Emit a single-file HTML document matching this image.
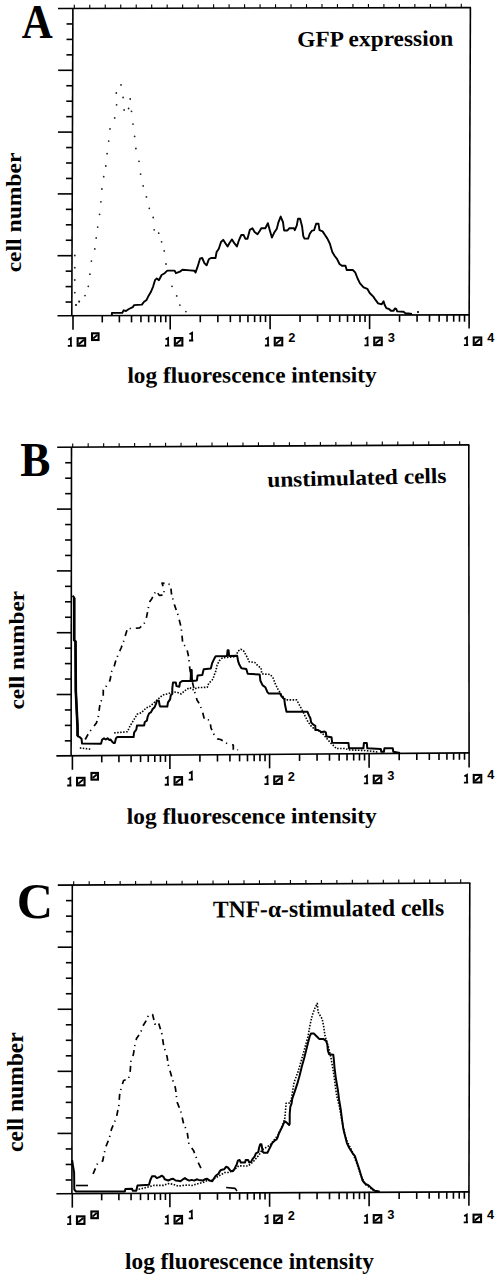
<!DOCTYPE html>
<html><head><meta charset="utf-8"><style>
html,body{margin:0;padding:0;background:#fff;}
body{width:497px;height:1280px;overflow:hidden;position:relative;}
svg{display:block;position:absolute;left:0;top:0;}
</style></head><body>
<svg width="497" height="1280" viewBox="0 0 497 1280">
<rect width="497" height="1280" fill="#fff"/>
<g stroke="#000" stroke-width="1.6" fill="none" stroke-linecap="butt"><line x1="58.00" y1="8.50" x2="471.00" y2="7.60"/><line x1="57.50" y1="315.70" x2="469.70" y2="314.90"/><line x1="72.90" y1="8.50" x2="71.80" y2="315.90"/><line x1="470.40" y1="7.60" x2="469.10" y2="328.60"/><line x1="66.54" y1="23.95" x2="72.84" y2="23.95"/><line x1="66.49" y1="39.40" x2="72.79" y2="39.40"/><line x1="66.43" y1="54.85" x2="72.73" y2="54.85"/><line x1="58.18" y1="70.30" x2="72.68" y2="70.30"/><line x1="66.32" y1="85.75" x2="72.62" y2="85.75"/><line x1="66.27" y1="101.20" x2="72.57" y2="101.20"/><line x1="66.21" y1="116.65" x2="72.51" y2="116.65"/><line x1="57.96" y1="132.10" x2="72.46" y2="132.10"/><line x1="66.10" y1="147.55" x2="72.40" y2="147.55"/><line x1="66.05" y1="163.00" x2="72.35" y2="163.00"/><line x1="65.99" y1="178.45" x2="72.29" y2="178.45"/><line x1="57.74" y1="193.90" x2="72.24" y2="193.90"/><line x1="65.88" y1="209.35" x2="72.18" y2="209.35"/><line x1="65.83" y1="224.80" x2="72.13" y2="224.80"/><line x1="65.77" y1="240.25" x2="72.07" y2="240.25"/><line x1="57.52" y1="255.70" x2="72.02" y2="255.70"/><line x1="65.66" y1="271.15" x2="71.96" y2="271.15"/><line x1="65.60" y1="286.60" x2="71.90" y2="286.60"/><line x1="65.55" y1="302.05" x2="71.85" y2="302.05"/><line x1="102.26" y1="315.61" x2="102.26" y2="322.41"/><line x1="119.38" y1="315.58" x2="119.38" y2="322.38"/><line x1="131.52" y1="315.56" x2="131.52" y2="322.36"/><line x1="140.94" y1="315.54" x2="140.94" y2="322.34"/><line x1="148.64" y1="315.52" x2="148.64" y2="322.32"/><line x1="155.14" y1="315.51" x2="155.14" y2="322.31"/><line x1="160.78" y1="315.50" x2="160.78" y2="322.30"/><line x1="165.75" y1="315.49" x2="165.75" y2="322.29"/><line x1="73.00" y1="315.17" x2="73.00" y2="329.67"/><line x1="200.27" y1="315.42" x2="200.27" y2="322.22"/><line x1="217.86" y1="315.39" x2="217.86" y2="322.19"/><line x1="230.35" y1="315.36" x2="230.35" y2="322.16"/><line x1="240.03" y1="315.35" x2="240.03" y2="322.15"/><line x1="247.94" y1="315.33" x2="247.94" y2="322.13"/><line x1="254.63" y1="315.32" x2="254.63" y2="322.12"/><line x1="260.42" y1="315.31" x2="260.42" y2="322.11"/><line x1="265.53" y1="315.30" x2="265.53" y2="322.10"/><line x1="170.20" y1="314.98" x2="170.20" y2="329.48"/><line x1="300.05" y1="315.23" x2="300.05" y2="322.03"/><line x1="317.57" y1="315.19" x2="317.57" y2="321.99"/><line x1="330.00" y1="315.17" x2="330.00" y2="321.97"/><line x1="339.65" y1="315.15" x2="339.65" y2="321.95"/><line x1="347.53" y1="315.14" x2="347.53" y2="321.94"/><line x1="354.19" y1="315.12" x2="354.19" y2="321.92"/><line x1="359.96" y1="315.11" x2="359.96" y2="321.91"/><line x1="365.05" y1="315.10" x2="365.05" y2="321.90"/><line x1="270.10" y1="314.79" x2="270.10" y2="329.29"/><line x1="399.55" y1="315.04" x2="399.55" y2="321.84"/><line x1="417.07" y1="315.00" x2="417.07" y2="321.80"/><line x1="429.50" y1="314.98" x2="429.50" y2="321.78"/><line x1="439.15" y1="314.96" x2="439.15" y2="321.76"/><line x1="447.03" y1="314.94" x2="447.03" y2="321.74"/><line x1="453.69" y1="314.93" x2="453.69" y2="321.73"/><line x1="459.46" y1="314.92" x2="459.46" y2="321.72"/><line x1="464.55" y1="314.91" x2="464.55" y2="321.71"/><line x1="369.60" y1="314.59" x2="369.60" y2="329.09"/><line x1="74.30" y1="8.46" x2="74.30" y2="4.66" stroke-width="1.1"/><line x1="89.78" y1="8.43" x2="89.78" y2="4.63" stroke-width="1.1"/><line x1="105.26" y1="8.40" x2="105.26" y2="4.60" stroke-width="1.1"/><line x1="120.74" y1="8.36" x2="120.74" y2="4.56" stroke-width="1.1"/><line x1="136.22" y1="8.33" x2="136.22" y2="4.53" stroke-width="1.1"/><line x1="151.70" y1="8.30" x2="151.70" y2="4.50" stroke-width="1.1"/><line x1="167.18" y1="8.26" x2="167.18" y2="4.46" stroke-width="1.1"/><line x1="182.66" y1="8.23" x2="182.66" y2="4.43" stroke-width="1.1"/><line x1="198.14" y1="8.19" x2="198.14" y2="4.39" stroke-width="1.1"/><line x1="213.62" y1="8.16" x2="213.62" y2="4.36" stroke-width="1.1"/><line x1="229.10" y1="8.13" x2="229.10" y2="4.33" stroke-width="1.1"/><line x1="244.58" y1="8.09" x2="244.58" y2="4.29" stroke-width="1.1"/><line x1="260.06" y1="8.06" x2="260.06" y2="4.26" stroke-width="1.1"/><line x1="275.54" y1="8.03" x2="275.54" y2="4.23" stroke-width="1.1"/><line x1="291.02" y1="7.99" x2="291.02" y2="4.19" stroke-width="1.1"/><line x1="306.50" y1="7.96" x2="306.50" y2="4.16" stroke-width="1.1"/><line x1="321.98" y1="7.92" x2="321.98" y2="4.12" stroke-width="1.1"/><line x1="337.46" y1="7.89" x2="337.46" y2="4.09" stroke-width="1.1"/><line x1="352.94" y1="7.86" x2="352.94" y2="4.06" stroke-width="1.1"/><line x1="368.42" y1="7.82" x2="368.42" y2="4.02" stroke-width="1.1"/><line x1="383.90" y1="7.79" x2="383.90" y2="3.99" stroke-width="1.1"/><line x1="399.38" y1="7.75" x2="399.38" y2="3.95" stroke-width="1.1"/><line x1="414.86" y1="7.72" x2="414.86" y2="3.92" stroke-width="1.1"/><line x1="430.34" y1="7.69" x2="430.34" y2="3.89" stroke-width="1.1"/><line x1="445.82" y1="7.65" x2="445.82" y2="3.85" stroke-width="1.1"/><line x1="461.30" y1="7.62" x2="461.30" y2="3.82" stroke-width="1.1"/></g>
<path d="M68.30,339.67 l2.6,-1.5 v8.2 M67.80,345.87 h4.3" stroke="#000" stroke-width="1.8" fill="none"/>
<g stroke="#000" fill="none"><rect x="77.65" y="338.22" width="7.50" height="7.50" stroke-width="2.1"/><line x1="78.80" y1="344.17" x2="84.00" y2="339.77" stroke-width="1.9"/></g>
<g stroke="#000" fill="none"><rect x="92.05" y="333.32" width="6.50" height="6.70" stroke-width="2.1"/><line x1="93.20" y1="338.47" x2="97.40" y2="334.87" stroke-width="1.9"/></g>
<path d="M165.50,339.48 l2.6,-1.5 v8.2 M165.00,345.68 h4.3" stroke="#000" stroke-width="1.8" fill="none"/>
<g stroke="#000" fill="none"><rect x="174.85" y="338.03" width="7.50" height="7.50" stroke-width="2.1"/><line x1="176.00" y1="343.98" x2="181.20" y2="339.58" stroke-width="1.9"/></g>
<path d="M189.50,334.28 l2.6,-1.5 v8.2 M189.00,340.48 h4.3" stroke="#000" stroke-width="1.8" fill="none"/>
<path d="M265.40,339.29 l2.6,-1.5 v8.2 M264.90,345.49 h4.3" stroke="#000" stroke-width="1.8" fill="none"/>
<g stroke="#000" fill="none"><rect x="274.75" y="337.84" width="7.50" height="7.50" stroke-width="2.1"/><line x1="275.90" y1="343.79" x2="281.10" y2="339.39" stroke-width="1.9"/></g>
<text x="287.90" y="341.99" font-family="Liberation Mono" font-weight="bold" font-size="13.6" textLength="7.6" lengthAdjust="spacingAndGlyphs">2</text>
<path d="M364.90,339.09 l2.6,-1.5 v8.2 M364.40,345.29 h4.3" stroke="#000" stroke-width="1.8" fill="none"/>
<g stroke="#000" fill="none"><rect x="374.25" y="337.64" width="7.50" height="7.50" stroke-width="2.1"/><line x1="375.40" y1="343.59" x2="380.60" y2="339.19" stroke-width="1.9"/></g>
<text x="387.40" y="341.79" font-family="Liberation Mono" font-weight="bold" font-size="13.6" textLength="7.6" lengthAdjust="spacingAndGlyphs">3</text>
<path d="M464.40,338.90 l2.6,-1.5 v8.2 M463.90,345.10 h4.3" stroke="#000" stroke-width="1.8" fill="none"/>
<g stroke="#000" fill="none"><rect x="473.75" y="337.45" width="7.50" height="7.50" stroke-width="2.1"/><line x1="474.90" y1="343.40" x2="480.10" y2="339.00" stroke-width="1.9"/></g>
<text x="486.90" y="341.60" font-family="Liberation Mono" font-weight="bold" font-size="13.6" textLength="7.6" lengthAdjust="spacingAndGlyphs">4</text>
<g stroke="#000" stroke-width="1.6" fill="none" stroke-linecap="butt"><line x1="57.20" y1="447.30" x2="469.40" y2="444.90"/><line x1="56.40" y1="755.90" x2="469.70" y2="752.90"/><line x1="71.50" y1="447.30" x2="71.10" y2="755.60"/><line x1="468.80" y1="444.90" x2="469.10" y2="767.40"/><line x1="65.18" y1="462.75" x2="71.48" y2="462.75"/><line x1="65.16" y1="478.20" x2="71.46" y2="478.20"/><line x1="65.14" y1="493.65" x2="71.44" y2="493.65"/><line x1="56.92" y1="509.10" x2="71.42" y2="509.10"/><line x1="65.10" y1="524.55" x2="71.40" y2="524.55"/><line x1="65.08" y1="540.00" x2="71.38" y2="540.00"/><line x1="65.06" y1="555.45" x2="71.36" y2="555.45"/><line x1="56.84" y1="570.90" x2="71.34" y2="570.90"/><line x1="65.02" y1="586.35" x2="71.32" y2="586.35"/><line x1="65.00" y1="601.80" x2="71.30" y2="601.80"/><line x1="64.98" y1="617.25" x2="71.28" y2="617.25"/><line x1="56.76" y1="632.70" x2="71.26" y2="632.70"/><line x1="64.94" y1="648.15" x2="71.24" y2="648.15"/><line x1="64.92" y1="663.60" x2="71.22" y2="663.60"/><line x1="64.90" y1="679.05" x2="71.20" y2="679.05"/><line x1="56.68" y1="694.50" x2="71.18" y2="694.50"/><line x1="64.86" y1="709.95" x2="71.16" y2="709.95"/><line x1="64.84" y1="725.40" x2="71.14" y2="725.40"/><line x1="64.82" y1="740.85" x2="71.12" y2="740.85"/><line x1="101.75" y1="755.57" x2="101.75" y2="762.37"/><line x1="118.92" y1="755.45" x2="118.92" y2="762.25"/><line x1="131.10" y1="755.36" x2="131.10" y2="762.16"/><line x1="140.55" y1="755.29" x2="140.55" y2="762.09"/><line x1="148.27" y1="755.23" x2="148.27" y2="762.03"/><line x1="154.80" y1="755.18" x2="154.80" y2="761.98"/><line x1="160.45" y1="755.14" x2="160.45" y2="761.94"/><line x1="165.44" y1="755.11" x2="165.44" y2="761.91"/><line x1="72.40" y1="755.28" x2="72.40" y2="769.78"/><line x1="199.91" y1="754.86" x2="199.91" y2="761.66"/><line x1="217.47" y1="754.73" x2="217.47" y2="761.53"/><line x1="229.93" y1="754.64" x2="229.93" y2="761.44"/><line x1="239.59" y1="754.57" x2="239.59" y2="761.37"/><line x1="247.48" y1="754.51" x2="247.48" y2="761.31"/><line x1="254.16" y1="754.46" x2="254.16" y2="761.26"/><line x1="259.94" y1="754.42" x2="259.94" y2="761.22"/><line x1="265.04" y1="754.38" x2="265.04" y2="761.18"/><line x1="169.90" y1="754.57" x2="169.90" y2="769.07"/><line x1="299.55" y1="754.13" x2="299.55" y2="760.93"/><line x1="317.07" y1="754.01" x2="317.07" y2="760.81"/><line x1="329.50" y1="753.91" x2="329.50" y2="760.71"/><line x1="339.15" y1="753.84" x2="339.15" y2="760.64"/><line x1="347.03" y1="753.79" x2="347.03" y2="760.59"/><line x1="353.69" y1="753.74" x2="353.69" y2="760.54"/><line x1="359.46" y1="753.70" x2="359.46" y2="760.50"/><line x1="364.55" y1="753.66" x2="364.55" y2="760.46"/><line x1="269.60" y1="753.85" x2="269.60" y2="768.35"/><line x1="399.20" y1="753.41" x2="399.20" y2="760.21"/><line x1="416.81" y1="753.28" x2="416.81" y2="760.08"/><line x1="429.31" y1="753.19" x2="429.31" y2="759.99"/><line x1="439.00" y1="753.12" x2="439.00" y2="759.92"/><line x1="446.92" y1="753.06" x2="446.92" y2="759.86"/><line x1="453.61" y1="753.01" x2="453.61" y2="759.81"/><line x1="459.41" y1="752.97" x2="459.41" y2="759.77"/><line x1="464.52" y1="752.93" x2="464.52" y2="759.73"/><line x1="369.10" y1="753.13" x2="369.10" y2="767.63"/><line x1="72.70" y1="447.21" x2="72.70" y2="443.41" stroke-width="1.1"/><line x1="88.18" y1="447.12" x2="88.18" y2="443.32" stroke-width="1.1"/><line x1="103.66" y1="447.03" x2="103.66" y2="443.23" stroke-width="1.1"/><line x1="119.14" y1="446.94" x2="119.14" y2="443.14" stroke-width="1.1"/><line x1="134.62" y1="446.85" x2="134.62" y2="443.05" stroke-width="1.1"/><line x1="150.10" y1="446.76" x2="150.10" y2="442.96" stroke-width="1.1"/><line x1="165.58" y1="446.67" x2="165.58" y2="442.87" stroke-width="1.1"/><line x1="181.06" y1="446.58" x2="181.06" y2="442.78" stroke-width="1.1"/><line x1="196.54" y1="446.49" x2="196.54" y2="442.69" stroke-width="1.1"/><line x1="212.02" y1="446.40" x2="212.02" y2="442.60" stroke-width="1.1"/><line x1="227.50" y1="446.31" x2="227.50" y2="442.51" stroke-width="1.1"/><line x1="242.98" y1="446.22" x2="242.98" y2="442.42" stroke-width="1.1"/><line x1="258.46" y1="446.13" x2="258.46" y2="442.33" stroke-width="1.1"/><line x1="273.94" y1="446.04" x2="273.94" y2="442.24" stroke-width="1.1"/><line x1="289.42" y1="445.95" x2="289.42" y2="442.15" stroke-width="1.1"/><line x1="304.90" y1="445.86" x2="304.90" y2="442.06" stroke-width="1.1"/><line x1="320.38" y1="445.77" x2="320.38" y2="441.97" stroke-width="1.1"/><line x1="335.86" y1="445.68" x2="335.86" y2="441.88" stroke-width="1.1"/><line x1="351.34" y1="445.58" x2="351.34" y2="441.78" stroke-width="1.1"/><line x1="366.82" y1="445.49" x2="366.82" y2="441.69" stroke-width="1.1"/><line x1="382.30" y1="445.40" x2="382.30" y2="441.60" stroke-width="1.1"/><line x1="397.78" y1="445.31" x2="397.78" y2="441.51" stroke-width="1.1"/><line x1="413.26" y1="445.22" x2="413.26" y2="441.42" stroke-width="1.1"/><line x1="428.74" y1="445.13" x2="428.74" y2="441.33" stroke-width="1.1"/><line x1="444.22" y1="445.04" x2="444.22" y2="441.24" stroke-width="1.1"/><line x1="459.70" y1="444.95" x2="459.70" y2="441.15" stroke-width="1.1"/></g>
<path d="M67.70,779.28 l2.6,-1.5 v8.2 M67.20,785.48 h4.3" stroke="#000" stroke-width="1.8" fill="none"/>
<g stroke="#000" fill="none"><rect x="77.05" y="777.83" width="7.50" height="7.50" stroke-width="2.1"/><line x1="78.20" y1="783.78" x2="83.40" y2="779.38" stroke-width="1.9"/></g>
<g stroke="#000" fill="none"><rect x="91.45" y="772.93" width="6.50" height="6.70" stroke-width="2.1"/><line x1="92.60" y1="778.08" x2="96.80" y2="774.48" stroke-width="1.9"/></g>
<path d="M165.20,778.57 l2.6,-1.5 v8.2 M164.70,784.77 h4.3" stroke="#000" stroke-width="1.8" fill="none"/>
<g stroke="#000" fill="none"><rect x="174.55" y="777.12" width="7.50" height="7.50" stroke-width="2.1"/><line x1="175.70" y1="783.07" x2="180.90" y2="778.67" stroke-width="1.9"/></g>
<path d="M189.20,773.37 l2.6,-1.5 v8.2 M188.70,779.57 h4.3" stroke="#000" stroke-width="1.8" fill="none"/>
<path d="M264.90,777.85 l2.6,-1.5 v8.2 M264.40,784.05 h4.3" stroke="#000" stroke-width="1.8" fill="none"/>
<g stroke="#000" fill="none"><rect x="274.25" y="776.40" width="7.50" height="7.50" stroke-width="2.1"/><line x1="275.40" y1="782.35" x2="280.60" y2="777.95" stroke-width="1.9"/></g>
<text x="287.40" y="780.55" font-family="Liberation Mono" font-weight="bold" font-size="13.6" textLength="7.6" lengthAdjust="spacingAndGlyphs">2</text>
<path d="M364.40,777.13 l2.6,-1.5 v8.2 M363.90,783.33 h4.3" stroke="#000" stroke-width="1.8" fill="none"/>
<g stroke="#000" fill="none"><rect x="373.75" y="775.68" width="7.50" height="7.50" stroke-width="2.1"/><line x1="374.90" y1="781.63" x2="380.10" y2="777.23" stroke-width="1.9"/></g>
<text x="386.90" y="779.83" font-family="Liberation Mono" font-weight="bold" font-size="13.6" textLength="7.6" lengthAdjust="spacingAndGlyphs">3</text>
<path d="M464.40,776.40 l2.6,-1.5 v8.2 M463.90,782.60 h4.3" stroke="#000" stroke-width="1.8" fill="none"/>
<g stroke="#000" fill="none"><rect x="473.75" y="774.95" width="7.50" height="7.50" stroke-width="2.1"/><line x1="474.90" y1="780.90" x2="480.10" y2="776.50" stroke-width="1.9"/></g>
<text x="486.90" y="779.10" font-family="Liberation Mono" font-weight="bold" font-size="13.6" textLength="7.6" lengthAdjust="spacingAndGlyphs">4</text>
<g stroke="#000" stroke-width="1.6" fill="none" stroke-linecap="butt"><line x1="57.80" y1="885.10" x2="470.40" y2="883.00"/><line x1="56.40" y1="1193.70" x2="469.50" y2="1191.90"/><line x1="72.30" y1="885.10" x2="71.90" y2="1193.60"/><line x1="469.80" y1="883.00" x2="468.90" y2="1205.80"/><line x1="65.98" y1="900.62" x2="72.28" y2="900.62"/><line x1="65.96" y1="916.14" x2="72.26" y2="916.14"/><line x1="65.94" y1="931.66" x2="72.24" y2="931.66"/><line x1="57.72" y1="947.18" x2="72.22" y2="947.18"/><line x1="65.90" y1="962.70" x2="72.20" y2="962.70"/><line x1="65.88" y1="978.22" x2="72.18" y2="978.22"/><line x1="65.86" y1="993.74" x2="72.16" y2="993.74"/><line x1="57.64" y1="1009.26" x2="72.14" y2="1009.26"/><line x1="65.82" y1="1024.78" x2="72.12" y2="1024.78"/><line x1="65.80" y1="1040.30" x2="72.10" y2="1040.30"/><line x1="65.78" y1="1055.82" x2="72.08" y2="1055.82"/><line x1="57.56" y1="1071.34" x2="72.06" y2="1071.34"/><line x1="65.74" y1="1086.86" x2="72.04" y2="1086.86"/><line x1="65.72" y1="1102.38" x2="72.02" y2="1102.38"/><line x1="65.70" y1="1117.90" x2="72.00" y2="1117.90"/><line x1="57.48" y1="1133.42" x2="71.98" y2="1133.42"/><line x1="65.66" y1="1148.94" x2="71.96" y2="1148.94"/><line x1="65.64" y1="1164.46" x2="71.94" y2="1164.46"/><line x1="65.62" y1="1179.98" x2="71.92" y2="1179.98"/><line x1="101.68" y1="1193.50" x2="101.68" y2="1200.30"/><line x1="118.87" y1="1193.43" x2="118.87" y2="1200.23"/><line x1="131.06" y1="1193.37" x2="131.06" y2="1200.17"/><line x1="140.52" y1="1193.33" x2="140.52" y2="1200.13"/><line x1="148.25" y1="1193.30" x2="148.25" y2="1200.10"/><line x1="154.78" y1="1193.27" x2="154.78" y2="1200.07"/><line x1="160.44" y1="1193.25" x2="160.44" y2="1200.05"/><line x1="165.43" y1="1193.22" x2="165.43" y2="1200.02"/><line x1="72.30" y1="1193.13" x2="72.30" y2="1207.63"/><line x1="199.91" y1="1193.07" x2="199.91" y2="1199.87"/><line x1="217.47" y1="1193.00" x2="217.47" y2="1199.80"/><line x1="229.93" y1="1192.94" x2="229.93" y2="1199.74"/><line x1="239.59" y1="1192.90" x2="239.59" y2="1199.70"/><line x1="247.48" y1="1192.87" x2="247.48" y2="1199.67"/><line x1="254.16" y1="1192.84" x2="254.16" y2="1199.64"/><line x1="259.94" y1="1192.81" x2="259.94" y2="1199.61"/><line x1="265.04" y1="1192.79" x2="265.04" y2="1199.59"/><line x1="169.90" y1="1192.70" x2="169.90" y2="1207.20"/><line x1="299.55" y1="1192.64" x2="299.55" y2="1199.44"/><line x1="317.07" y1="1192.56" x2="317.07" y2="1199.36"/><line x1="329.50" y1="1192.51" x2="329.50" y2="1199.31"/><line x1="339.15" y1="1192.47" x2="339.15" y2="1199.27"/><line x1="347.03" y1="1192.43" x2="347.03" y2="1199.23"/><line x1="353.69" y1="1192.40" x2="353.69" y2="1199.20"/><line x1="359.46" y1="1192.38" x2="359.46" y2="1199.18"/><line x1="364.55" y1="1192.36" x2="364.55" y2="1199.16"/><line x1="269.60" y1="1192.27" x2="269.60" y2="1206.77"/><line x1="399.14" y1="1192.20" x2="399.14" y2="1199.00"/><line x1="416.72" y1="1192.13" x2="416.72" y2="1198.93"/><line x1="429.19" y1="1192.07" x2="429.19" y2="1198.87"/><line x1="438.86" y1="1192.03" x2="438.86" y2="1198.83"/><line x1="446.76" y1="1192.00" x2="446.76" y2="1198.80"/><line x1="453.44" y1="1191.97" x2="453.44" y2="1198.77"/><line x1="459.23" y1="1191.94" x2="459.23" y2="1198.74"/><line x1="464.33" y1="1191.92" x2="464.33" y2="1198.72"/><line x1="369.10" y1="1191.84" x2="369.10" y2="1206.34"/><line x1="73.70" y1="885.02" x2="73.70" y2="881.22" stroke-width="1.1"/><line x1="89.18" y1="884.94" x2="89.18" y2="881.14" stroke-width="1.1"/><line x1="104.66" y1="884.86" x2="104.66" y2="881.06" stroke-width="1.1"/><line x1="120.14" y1="884.78" x2="120.14" y2="880.98" stroke-width="1.1"/><line x1="135.62" y1="884.70" x2="135.62" y2="880.90" stroke-width="1.1"/><line x1="151.10" y1="884.62" x2="151.10" y2="880.82" stroke-width="1.1"/><line x1="166.58" y1="884.55" x2="166.58" y2="880.75" stroke-width="1.1"/><line x1="182.06" y1="884.47" x2="182.06" y2="880.67" stroke-width="1.1"/><line x1="197.54" y1="884.39" x2="197.54" y2="880.59" stroke-width="1.1"/><line x1="213.02" y1="884.31" x2="213.02" y2="880.51" stroke-width="1.1"/><line x1="228.50" y1="884.23" x2="228.50" y2="880.43" stroke-width="1.1"/><line x1="243.98" y1="884.15" x2="243.98" y2="880.35" stroke-width="1.1"/><line x1="259.46" y1="884.07" x2="259.46" y2="880.27" stroke-width="1.1"/><line x1="274.94" y1="883.99" x2="274.94" y2="880.19" stroke-width="1.1"/><line x1="290.42" y1="883.91" x2="290.42" y2="880.11" stroke-width="1.1"/><line x1="305.90" y1="883.84" x2="305.90" y2="880.04" stroke-width="1.1"/><line x1="321.38" y1="883.76" x2="321.38" y2="879.96" stroke-width="1.1"/><line x1="336.86" y1="883.68" x2="336.86" y2="879.88" stroke-width="1.1"/><line x1="352.34" y1="883.60" x2="352.34" y2="879.80" stroke-width="1.1"/><line x1="367.82" y1="883.52" x2="367.82" y2="879.72" stroke-width="1.1"/><line x1="383.30" y1="883.44" x2="383.30" y2="879.64" stroke-width="1.1"/><line x1="398.78" y1="883.36" x2="398.78" y2="879.56" stroke-width="1.1"/><line x1="414.26" y1="883.28" x2="414.26" y2="879.48" stroke-width="1.1"/><line x1="429.74" y1="883.20" x2="429.74" y2="879.40" stroke-width="1.1"/><line x1="445.22" y1="883.13" x2="445.22" y2="879.33" stroke-width="1.1"/><line x1="460.70" y1="883.05" x2="460.70" y2="879.25" stroke-width="1.1"/></g>
<path d="M67.60,1217.83 l2.6,-1.5 v8.2 M67.10,1224.03 h4.3" stroke="#000" stroke-width="1.8" fill="none"/>
<g stroke="#000" fill="none"><rect x="76.95" y="1216.38" width="7.50" height="7.50" stroke-width="2.1"/><line x1="78.10" y1="1222.33" x2="83.30" y2="1217.93" stroke-width="1.9"/></g>
<g stroke="#000" fill="none"><rect x="91.35" y="1211.48" width="6.50" height="6.70" stroke-width="2.1"/><line x1="92.50" y1="1216.63" x2="96.70" y2="1213.03" stroke-width="1.9"/></g>
<path d="M165.20,1217.40 l2.6,-1.5 v8.2 M164.70,1223.60 h4.3" stroke="#000" stroke-width="1.8" fill="none"/>
<g stroke="#000" fill="none"><rect x="174.55" y="1215.95" width="7.50" height="7.50" stroke-width="2.1"/><line x1="175.70" y1="1221.90" x2="180.90" y2="1217.50" stroke-width="1.9"/></g>
<path d="M189.20,1212.20 l2.6,-1.5 v8.2 M188.70,1218.40 h4.3" stroke="#000" stroke-width="1.8" fill="none"/>
<path d="M264.90,1216.97 l2.6,-1.5 v8.2 M264.40,1223.17 h4.3" stroke="#000" stroke-width="1.8" fill="none"/>
<g stroke="#000" fill="none"><rect x="274.25" y="1215.52" width="7.50" height="7.50" stroke-width="2.1"/><line x1="275.40" y1="1221.47" x2="280.60" y2="1217.07" stroke-width="1.9"/></g>
<text x="287.40" y="1219.67" font-family="Liberation Mono" font-weight="bold" font-size="13.6" textLength="7.6" lengthAdjust="spacingAndGlyphs">2</text>
<path d="M364.40,1216.54 l2.6,-1.5 v8.2 M363.90,1222.74 h4.3" stroke="#000" stroke-width="1.8" fill="none"/>
<g stroke="#000" fill="none"><rect x="373.75" y="1215.09" width="7.50" height="7.50" stroke-width="2.1"/><line x1="374.90" y1="1221.04" x2="380.10" y2="1216.64" stroke-width="1.9"/></g>
<text x="386.90" y="1219.24" font-family="Liberation Mono" font-weight="bold" font-size="13.6" textLength="7.6" lengthAdjust="spacingAndGlyphs">3</text>
<path d="M464.20,1216.10 l2.6,-1.5 v8.2 M463.70,1222.30 h4.3" stroke="#000" stroke-width="1.8" fill="none"/>
<g stroke="#000" fill="none"><rect x="473.55" y="1214.65" width="7.50" height="7.50" stroke-width="2.1"/><line x1="474.70" y1="1220.60" x2="479.90" y2="1216.20" stroke-width="1.9"/></g>
<text x="486.70" y="1218.80" font-family="Liberation Mono" font-weight="bold" font-size="13.6" textLength="7.6" lengthAdjust="spacingAndGlyphs">4</text>
<g fill="#222"><circle cx="74.8" cy="255.5" r="0.9"/><circle cx="74.8" cy="267.7" r="0.9"/><circle cx="74.8" cy="280.0" r="0.9"/><circle cx="74.8" cy="292.7" r="0.9"/><circle cx="79.1" cy="301.5" r="0.9"/><circle cx="76.0" cy="305.0" r="0.9"/><circle cx="76.1" cy="304.8" r="0.9"/><circle cx="79.3" cy="301.6" r="0.9"/><circle cx="85.0" cy="295.6" r="0.9"/><circle cx="88.3" cy="286.3" r="0.9"/><circle cx="89.9" cy="274.2" r="0.9"/><circle cx="91.4" cy="261.1" r="0.9"/><circle cx="94.8" cy="248.9" r="0.9"/><circle cx="96.2" cy="237.9" r="0.9"/><circle cx="97.7" cy="227.1" r="0.9"/><circle cx="99.6" cy="214.3" r="0.9"/><circle cx="100.9" cy="201.8" r="0.9"/><circle cx="101.9" cy="189.0" r="0.9"/><circle cx="103.7" cy="176.7" r="0.9"/><circle cx="105.8" cy="166.0" r="0.9"/><circle cx="107.1" cy="153.7" r="0.9"/><circle cx="108.7" cy="141.1" r="0.9"/><circle cx="110.0" cy="128.9" r="0.9"/><circle cx="114.7" cy="117.9" r="0.9"/><circle cx="116.6" cy="104.8" r="0.9"/><circle cx="116.3" cy="93.0" r="0.9"/><circle cx="121.0" cy="84.9" r="0.9"/><circle cx="123.1" cy="97.5" r="0.9"/><circle cx="130.2" cy="99.0" r="0.9"/><circle cx="124.1" cy="110.0" r="0.9"/><circle cx="128.6" cy="108.5" r="0.9"/><circle cx="131.5" cy="111.3" r="0.9"/><circle cx="133.0" cy="124.1" r="0.9"/><circle cx="134.6" cy="136.4" r="0.9"/><circle cx="135.9" cy="148.5" r="0.9"/><circle cx="139.0" cy="161.3" r="0.9"/><circle cx="140.6" cy="174.1" r="0.9"/><circle cx="143.2" cy="185.9" r="0.9"/><circle cx="146.4" cy="196.9" r="0.9"/><circle cx="149.3" cy="208.3" r="0.9"/><circle cx="153.2" cy="217.5" r="0.9"/><circle cx="154.2" cy="229.8" r="0.9"/><circle cx="158.7" cy="233.2" r="0.9"/><circle cx="161.6" cy="241.8" r="0.9"/><circle cx="164.2" cy="250.9" r="0.9"/><circle cx="166.0" cy="264.0" r="0.9"/><circle cx="172.0" cy="286.3" r="0.9"/><circle cx="176.7" cy="295.9" r="0.9"/><circle cx="179.9" cy="305.1" r="0.9"/><circle cx="185.9" cy="311.6" r="0.9"/></g>
<polyline points="111.9,315.0 111.9,312.9 122.3,312.9 123.6,310.3 126.0,311.0 128.9,309.0 132.8,307.2 134.0,305.1 141.9,304.6 143.8,302.0 146.6,299.9 148.5,295.9 151.1,291.5 153.2,286.3 155.0,280.2 156.8,278.4 158.9,280.2 161.6,275.0 164.7,273.2 167.3,270.6 174.6,270.6 175.9,273.2 179.9,271.6 182.5,269.8 190.0,270.4 194.4,270.8 195.5,272.6 197.7,266.4 200.0,258.7 202.2,258.0 204.4,263.1 206.6,265.3 208.8,259.3 211.0,258.0 215.5,258.0 216.6,252.0 218.8,248.7 221.0,242.0 223.2,239.8 225.4,243.2 227.6,246.5 229.8,242.5 232.0,239.4 234.3,243.2 236.9,246.5 239.1,239.8 241.3,235.0 243.6,235.0 245.3,238.7 247.5,238.7 249.8,229.9 252.4,228.3 254.6,232.1 257.5,234.3 259.7,231.0 261.3,228.3 265.3,228.3 267.9,223.2 269.7,229.9 271.9,237.6 274.1,232.8 276.8,228.8 278.5,222.1 280.7,216.6 283.0,222.1 284.1,230.5 287.4,230.5 289.2,228.3 294.0,228.3 294.8,230.2 296.8,225.3 298.0,218.8 300.1,218.8 302.1,226.6 303.3,236.2 304.5,238.6 308.1,238.6 309.8,233.8 311.7,230.9 314.1,230.2 316.1,223.7 318.5,223.7 319.5,230.2 322.6,231.4 325.0,235.0 327.4,238.6 329.8,243.5 332.3,251.9 334.7,256.0 337.1,259.1 339.5,264.0 341.9,265.7 345.5,265.7 346.7,270.0 352.8,270.0 355.2,272.4 357.6,278.5 360.0,283.3 363.6,287.4 367.3,288.8 369.7,293.0 373.3,296.6 375.7,300.2 378.1,303.3 381.7,304.3 383.6,301.2 384.5,304.5 386.3,308.1 389.0,309.0 390.9,310.8 393.6,310.8 394.9,308.5 396.3,309.0 397.2,311.4 403.5,311.7 405.4,313.2 408.3,313.5 412.0,314.0" fill="none" stroke="#000" stroke-width="1.9" stroke-linejoin="round" opacity="1.00"/>
<g fill="#000"><circle cx="418.0" cy="312.0" r="1.1"/></g>
<polyline points="72.5,595.8 74.2,597.5 74.2,640.0 75.5,641.5 75.8,691.0 77.5,726.0 77.6,736.0 80.0,737.3 81.6,739.0 82.0,743.5 101.0,743.7 102.2,739.5 104.0,738.3 105.8,739.5 107.6,738.3 109.4,740.1 110.6,739.5 111.8,741.3 113.6,743.1 114.8,743.1 116.0,738.3 117.3,737.1 133.6,737.1 134.2,732.3 136.3,729.7 137.0,725.5 144.1,725.5 144.8,722.0 146.9,720.6 147.6,717.0 149.0,713.5 151.1,712.1 152.5,709.3 154.6,707.2 156.1,703.7 156.8,700.8 158.9,700.8 159.6,705.1 160.3,706.5 167.3,706.5 168.0,702.3 170.1,699.4 170.8,695.2 172.3,693.8 172.3,688.2 173.0,682.5 175.8,682.5 176.5,686.1 179.3,686.8 180.0,682.5 182.1,681.1 190.6,681.1 191.0,670.0 191.7,670.0 192.0,681.1 196.9,680.4 197.6,675.5 202.3,674.9 203.7,669.3 210.8,668.6 212.2,663.0 213.6,660.1 215.0,657.3 215.7,656.3 227.0,655.9 227.6,650.3 228.6,650.3 229.1,655.9 237.2,655.8 238.1,661.1 239.3,664.6 241.4,668.2 246.3,668.9 247.7,673.8 259.7,674.5 260.4,680.8 262.5,685.1 265.3,687.2 267.4,692.1 268.8,693.5 280.1,693.5 281.5,696.3 284.3,699.2 285.0,704.8 286.5,711.8 307.5,711.8 308.9,715.4 310.4,718.2 311.1,722.4 313.2,724.5 315.3,725.9 315.3,730.1 318.1,730.1 319.5,730.8 321.6,732.3 324.4,731.5 325.8,732.3 326.5,736.5 331.5,737.2 332.2,742.8 348.5,743.0 349.0,748.3 363.4,748.3 363.9,743.0 366.8,743.0 367.3,748.3 380.8,749.0 381.3,751.8 383.9,751.8 384.4,748.3 392.8,748.3 393.3,751.8 400.0,753.0" fill="none" stroke="#000" stroke-width="2.0" stroke-linejoin="round" opacity="1.00"/>
<polyline points="74.2,598.0 74.2,640.0 75.5,641.5 75.8,691.0 77.5,726.0 77.6,736.0" fill="none" stroke="#000" stroke-width="2.6" stroke-linejoin="round" opacity="1.00"/>
<polyline points="79.8,748.0 91.3,749.2" fill="none" stroke="#000" stroke-width="1.6" stroke-linejoin="round" stroke-dasharray="1.5,1.5" opacity="1.00"/>
<polyline points="114.2,732.9 127.5,731.7 129.9,726.2 133.6,720.2 137.2,714.2 141.3,712.8 146.2,707.9 149.7,706.5 155.4,701.5 162.4,695.2 164.5,694.5 168.0,693.8 172.7,691.8 177.7,692.5 181.2,693.9 186.1,689.7 189.6,687.6 193.2,689.7 197.4,687.6 207.3,687.3 208.7,683.4 212.9,679.2 214.3,674.9 215.7,671.4 217.1,665.1 219.2,660.8 222.4,657.8 235.7,656.6 237.9,651.3 240.7,649.2 243.5,650.6 247.7,658.3 249.1,661.8 254.8,662.5 257.6,665.4 261.1,668.2 261.8,673.8 270.3,674.5 273.1,678.0 275.2,683.7 278.0,689.3 281.5,694.9 285.7,699.9 296.6,699.9 300.8,707.6 303.7,713.2 307.9,721.7 312.1,727.3 317.7,730.1 323.4,734.4 330.4,742.8 334.6,746.5 336.1,748.5 344.5,748.5 350.0,750.0 365.0,750.5 378.0,752.0" fill="none" stroke="#000" stroke-width="1.6" stroke-linejoin="round" stroke-dasharray="1.5,1.5" opacity="1.00"/>
<polyline points="85.2,739.5 89.1,732.4 96.4,723.0 98.2,717.3 100.2,702.3 103.2,698.2 103.3,690.0 109.3,682.1 110.3,679.1 111.3,672.1 114.3,666.0 116.2,659.2 121.1,648.0 123.5,641.5 127.5,628.4 133.1,628.6 139.6,627.8 143.6,624.6 146.0,619.8 148.4,607.7 150.0,601.3 151.7,598.9 156.1,590.6 159.3,595.4 163.8,595.0 164.2,590.1 162.0,583.0 170.6,584.5 171.4,593.3 174.6,605.4 177.8,614.3 181.1,627.2 182.2,637.6 182.7,643.3 186.7,648.1 188.6,656.6 189.8,668.6 191.0,675.9 194.7,692.0 197.1,700.3 199.5,703.9 202.5,711.7 204.3,719.0 209.8,720.2 211.0,728.0 214.6,735.9 217.6,738.9 220.6,739.5 227.3,743.7 233.3,745.0 233.3,749.5 238.1,749.8" fill="none" stroke="#000" stroke-width="1.7" stroke-linejoin="round" stroke-dasharray="6,4,1.2,5" opacity="1.00"/>
<polyline points="72.1,1160.0 73.0,1166.0 74.1,1172.4 74.3,1189.5 76.0,1191.5 124.8,1191.6 125.4,1189.0 132.1,1188.7 132.7,1190.8 136.3,1190.8 137.5,1185.4 149.0,1184.8 150.2,1180.5 152.0,1176.3 155.0,1176.3 156.8,1178.1 159.9,1176.9 161.7,1175.7 163.5,1176.9 164.7,1179.3 168.3,1180.5 170.7,1179.3 173.1,1178.7 175.6,1180.5 178.0,1180.8 180.5,1181.2 183.0,1179.3 184.9,1178.1 186.7,1179.3 189.2,1180.6 191.7,1179.9 194.2,1180.6 196.7,1179.3 198.6,1179.9 202.9,1180.6 204.8,1179.3 207.3,1178.7 209.2,1180.6 212.3,1181.2 214.2,1178.1 215.4,1176.2 216.7,1175.0 218.5,1173.7 219.8,1171.2 221.0,1170.0 224.1,1169.3 226.0,1166.8 227.9,1167.5 230.4,1170.6 232.9,1171.2 234.7,1168.7 236.0,1165.6 236.6,1164.9 237.8,1160.7 239.6,1160.0 240.8,1162.5 245.1,1162.5 245.7,1160.0 248.1,1160.0 249.3,1162.5 251.1,1161.9 252.3,1159.4 254.7,1156.4 255.9,1153.4 258.3,1152.2 259.0,1148.0 260.2,1144.3 261.4,1144.3 262.0,1147.4 262.6,1151.6 263.8,1152.8 267.4,1152.8 268.6,1150.4 270.4,1146.8 272.2,1143.1 274.6,1140.7 276.5,1139.5 277.7,1137.1 278.9,1133.5 280.7,1129.9 282.5,1126.2 283.7,1123.2 284.9,1121.4 286.7,1122.6 289.1,1125.0 289.7,1123.8 289.7,1114.2 290.3,1106.9 291.6,1103.3 292.2,1098.9 294.7,1091.6 297.1,1084.4 299.5,1075.9 301.9,1066.3 304.3,1057.8 306.1,1050.6 307.9,1043.3 309.8,1036.1 311.0,1033.6 314.0,1033.6 315.8,1035.5 317.6,1037.3 319.4,1039.1 323.6,1039.1 326.1,1040.9 327.3,1044.5 327.9,1050.6 329.1,1054.2 333.3,1054.8 333.9,1060.2 334.5,1067.5 335.7,1077.1 336.9,1084.4 337.9,1090.0 339.1,1099.7 340.9,1110.5 342.1,1120.2 343.3,1128.6 345.1,1135.9 346.9,1143.1 349.3,1148.0 352.3,1152.8 354.8,1155.8 356.6,1161.3 359.0,1168.5 360.8,1174.5 362.6,1180.6 365.0,1183.6 368.6,1185.4 371.7,1188.4 374.7,1190.8 379.5,1191.4" fill="none" stroke="#000" stroke-width="2.0" stroke-linejoin="round" opacity="1.00"/>
<polyline points="138.6,1189.2 140.5,1189.0 153.8,1185.4 163.5,1185.4 168.3,1183.6 173.1,1184.2 178.0,1186.0 188.0,1185.0 191.7,1185.5 204.2,1182.0 208.0,1180.0 212.3,1180.0 220.4,1175.0 224.8,1172.5 229.1,1172.5 234.0,1170.0 238.8,1165.8 244.5,1166.0 248.0,1166.0 253.0,1162.0 259.0,1155.0 262.0,1150.0 270.0,1145.0 278.0,1135.0 283.0,1124.0 284.9,1117.8 286.1,1103.3 290.0,1103.0 291.5,1098.0 294.1,1082.3 298.3,1071.0 303.9,1051.3 308.2,1035.8 310.0,1025.0 312.4,1014.7 315.0,1008.0 317.3,1003.4 318.0,1011.9 322.2,1019.0 323.6,1026.0 325.0,1035.8 327.0,1042.0 329.0,1049.0 331.0,1058.0 333.3,1071.1 334.5,1079.5 335.7,1089.2 336.9,1096.4 339.0,1105.0 341.5,1118.0 344.0,1131.0 346.5,1140.0 352.0,1151.0 357.0,1164.0 361.0,1176.0 366.0,1185.0 373.0,1190.0 380.0,1192.0" fill="none" stroke="#000" stroke-width="1.6" stroke-linejoin="round" stroke-dasharray="1.5,1.5" opacity="1.00"/>
<polyline points="76.0,1185.5 88.0,1185.5" fill="none" stroke="#000" stroke-width="1.6" stroke-linejoin="round" opacity="1.00"/>
<polyline points="93.1,1173.9 97.9,1162.6 102.7,1161.0 104.3,1153.0 105.9,1146.5 109.2,1138.5 111.6,1128.8 116.4,1117.6 118.0,1109.5 118.8,1106.3 119.6,1095.0 121.2,1087.8 123.6,1080.5 128.5,1078.9 130.1,1072.5 130.9,1061.2 133.3,1054.8 134.9,1045.1 136.5,1038.6 139.8,1033.8 142.2,1029.0 143.0,1025.8 147.0,1019.3 148.6,1014.5 152.6,1014.5 155.0,1024.2 158.2,1021.8 161.8,1033.6 163.6,1045.3 167.2,1057.1 168.1,1064.3 172.6,1079.7 175.4,1087.9 177.2,1102.4 180.8,1111.4 183.5,1123.2 187.1,1131.4 188.9,1144.1 193.5,1150.4 198.0,1162.2 201.6,1169.4" fill="none" stroke="#000" stroke-width="1.7" stroke-linejoin="round" stroke-dasharray="6,4,1.2,5" opacity="1.00"/>
<polyline points="226.1,1187.5 235.1,1188.4 237.0,1191.0" fill="none" stroke="#000" stroke-width="1.6" stroke-linejoin="round" opacity="1.00"/>
<text x="21.85" y="38.00" font-family="Liberation Serif" font-weight="bold" font-size="48.138" textLength="30.992" lengthAdjust="spacingAndGlyphs">A</text>
<text x="20.15" y="475.90" font-family="Liberation Serif" font-weight="bold" font-size="48.911" textLength="30.162" lengthAdjust="spacingAndGlyphs">B</text>
<text x="16.85" y="917.70" font-family="Liberation Serif" font-weight="bold" font-size="50.761" textLength="36.301" lengthAdjust="spacingAndGlyphs">C</text>
<text x="297.30" y="46.70" transform="rotate(-0.420 298.30 46.70)" font-family="Liberation Serif" font-weight="bold" font-size="22.267" textLength="156.052" lengthAdjust="spacingAndGlyphs">GFP expression</text>
<text x="267.45" y="487.00" transform="rotate(-1.350 267.70 487.00)" font-family="Liberation Serif" font-weight="bold" font-size="21.643" textLength="179.149" lengthAdjust="spacingAndGlyphs">unstimulated cells</text>
<text x="212.95" y="917.50" transform="rotate(-0.500 213.20 917.50)" font-family="Liberation Serif" font-weight="bold" font-size="23.899" textLength="231.149" lengthAdjust="spacingAndGlyphs">TNF-&#945;-stimulated cells</text>
<text x="127.40" y="382.80" transform="rotate(-0.140 127.90 382.80)" font-family="Liberation Serif" font-weight="bold" font-size="22.361" textLength="249.350" lengthAdjust="spacingAndGlyphs">log fluorescence intensity</text>
<text x="126.85" y="823.80" transform="rotate(-0.160 127.10 823.80)" font-family="Liberation Serif" font-weight="bold" font-size="22.363" textLength="249.899" lengthAdjust="spacingAndGlyphs">log fluorescence intensity</text>
<text x="125.05" y="1268.70" font-family="Liberation Serif" font-weight="bold" font-size="22.363" textLength="248.899" lengthAdjust="spacingAndGlyphs">log fluorescence intensity</text>
<text x="21.40" y="272.35" transform="rotate(-90 21.40 272.35)" font-family="Liberation Serif" font-weight="bold" font-size="22.003" textLength="119.754" lengthAdjust="spacingAndGlyphs">cell number</text>
<text x="23.75" y="709.50" transform="rotate(-90 23.75 709.50)" font-family="Liberation Serif" font-weight="bold" font-size="21.639" textLength="118.753" lengthAdjust="spacingAndGlyphs">cell number</text>
<text x="23.10" y="1152.00" transform="rotate(-90 23.10 1152.00)" font-family="Liberation Serif" font-weight="bold" font-size="22.364" textLength="119.754" lengthAdjust="spacingAndGlyphs">cell number</text>
</svg>

</body></html>
